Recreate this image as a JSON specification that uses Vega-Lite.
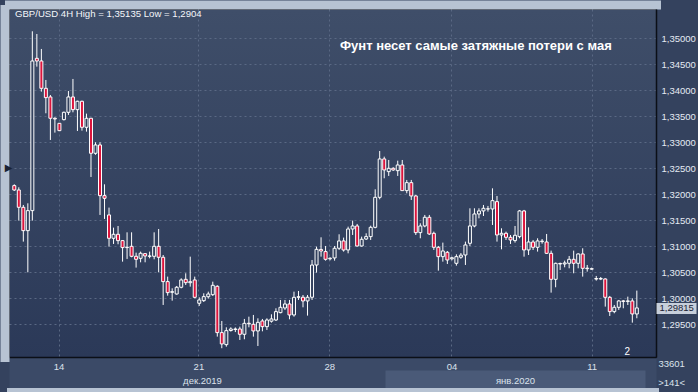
{
  "$schema": "https://vega.github.io/schema/vega-lite/v6.json",
  "width": 647,
  "height": 348,
  "autosize": {"type": "none"},
  "padding": {"left": 9, "top": 9, "right": 42, "bottom": 35},
  "background": "#34425e",
  "view": {
    "fill": {"gradient": "linear", "x1": 0, "y1": 0, "x2": 0, "y2": 1, "stops": [{"offset": 0, "color": "#3f4e69"}, {"offset": 1, "color": "#2b3958"}]},
    "stroke": "#10151f",
    "strokeWidth": 1
  },
  "config": {"font": "Liberation Sans"},
  "data": {"values": [
    {"i":0,"o":1.32167,"h":1.32192,"l":1.32064,"c":1.32083},
    {"i":1,"o":1.32083,"h":1.32135,"l":1.31494,"c":1.3175},
    {"i":2,"o":1.3175,"h":1.31795,"l":1.3109,"c":1.31301},
    {"i":3,"o":1.31301,"h":1.31827,"l":1.305,"c":1.31686},
    {"i":4,"o":1.31686,"h":1.35135,"l":1.31494,"c":1.34564},
    {"i":5,"o":1.34615,"h":1.35083,"l":1.34455,"c":1.34564},
    {"i":6,"o":1.34564,"h":1.34795,"l":1.33974,"c":1.34038},
    {"i":7,"o":1.34038,"h":1.34199,"l":1.33558,"c":1.33859},
    {"i":8,"o":1.33872,"h":1.3391,"l":1.33045,"c":1.33462},
    {"i":9,"o":1.33462,"h":1.33481,"l":1.33186,"c":1.33449},
    {"i":10,"o":1.33365,"h":1.3337,"l":1.3322,"c":1.33224},
    {"i":11,"o":1.33436,"h":1.3359,"l":1.3342,"c":1.33577},
    {"i":12,"o":1.33577,"h":1.33987,"l":1.33526,"c":1.33872},
    {"i":13,"o":1.33872,"h":1.34218,"l":1.33577,"c":1.33628},
    {"i":14,"o":1.33628,"h":1.338,"l":1.33218,"c":1.33789},
    {"i":15,"o":1.33789,"h":1.338,"l":1.33224,"c":1.33289},
    {"i":16,"o":1.33289,"h":1.33551,"l":1.33205,"c":1.33462},
    {"i":17,"o":1.33462,"h":1.3347,"l":1.32333,"c":1.32789},
    {"i":18,"o":1.32789,"h":1.33,"l":1.3276,"c":1.32949},
    {"i":19,"o":1.32949,"h":1.33,"l":1.31603,"c":1.31974},
    {"i":20,"o":1.31974,"h":1.32192,"l":1.31526,"c":1.31923},
    {"i":21,"o":1.31603,"h":1.31744,"l":1.30994,"c":1.31154},
    {"i":22,"o":1.31154,"h":1.31359,"l":1.31045,"c":1.31231},
    {"i":23,"o":1.31231,"h":1.31391,"l":1.31039,"c":1.31109},
    {"i":24,"o":1.31109,"h":1.3112,"l":1.30705,"c":1.30975},
    {"i":25,"o":1.30975,"h":1.31269,"l":1.30757,"c":1.30982},
    {"i":26,"o":1.31,"h":1.31269,"l":1.30789,"c":1.30808},
    {"i":27,"o":1.30808,"h":1.30878,"l":1.3059,"c":1.3075},
    {"i":28,"o":1.30769,"h":1.30898,"l":1.30692,"c":1.30866},
    {"i":29,"o":1.30859,"h":1.3087,"l":1.30692,"c":1.30814},
    {"i":30,"o":1.30808,"h":1.30898,"l":1.30769,"c":1.30814},
    {"i":31,"o":1.30808,"h":1.31269,"l":1.3075,"c":1.31},
    {"i":32,"o":1.31,"h":1.31333,"l":1.305,"c":1.30789},
    {"i":33,"o":1.30789,"h":1.30833,"l":1.29872,"c":1.30321},
    {"i":34,"o":1.30321,"h":1.30417,"l":1.30051,"c":1.30109},
    {"i":35,"o":1.30115,"h":1.30192,"l":1.29955,"c":1.30128},
    {"i":36,"o":1.30083,"h":1.30237,"l":1.3007,"c":1.30212},
    {"i":37,"o":1.30212,"h":1.30385,"l":1.30192,"c":1.30353},
    {"i":38,"o":1.30365,"h":1.30481,"l":1.30256,"c":1.30301},
    {"i":39,"o":1.303,"h":1.30801,"l":1.30224,"c":1.3032},
    {"i":40,"o":1.30353,"h":1.30417,"l":1.3,"c":1.30019},
    {"i":41,"o":1.29904,"h":1.30019,"l":1.29853,"c":1.29968},
    {"i":42,"o":1.29955,"h":1.30096,"l":1.2993,"c":1.30032},
    {"i":43,"o":1.3003,"h":1.30128,"l":1.29994,"c":1.30083},
    {"i":44,"o":1.3007,"h":1.3032,"l":1.30045,"c":1.3025},
    {"i":45,"o":1.30231,"h":1.3025,"l":1.29263,"c":1.2934},
    {"i":46,"o":1.2934,"h":1.29564,"l":1.2904,"c":1.29122},
    {"i":47,"o":1.29109,"h":1.29442,"l":1.2907,"c":1.29378},
    {"i":48,"o":1.2938,"h":1.29442,"l":1.2936,"c":1.2941},
    {"i":49,"o":1.2941,"h":1.2944,"l":1.2935,"c":1.294},
    {"i":50,"o":1.2941,"h":1.29455,"l":1.29199,"c":1.29308},
    {"i":51,"o":1.29308,"h":1.29603,"l":1.29212,"c":1.29519},
    {"i":52,"o":1.2952,"h":1.29647,"l":1.29442,"c":1.2951},
    {"i":53,"o":1.295,"h":1.2968,"l":1.29263,"c":1.29372},
    {"i":54,"o":1.29372,"h":1.29615,"l":1.29083,"c":1.29538},
    {"i":55,"o":1.29564,"h":1.29603,"l":1.29365,"c":1.29455},
    {"i":56,"o":1.29455,"h":1.29615,"l":1.29391,"c":1.29583},
    {"i":57,"o":1.2956,"h":1.29692,"l":1.29532,"c":1.29603},
    {"i":58,"o":1.29583,"h":1.29808,"l":1.29564,"c":1.29744},
    {"i":59,"o":1.29724,"h":1.29968,"l":1.29712,"c":1.29827},
    {"i":60,"o":1.29814,"h":1.29968,"l":1.29776,"c":1.29891},
    {"i":61,"o":1.29891,"h":1.29968,"l":1.29596,"c":1.2968},
    {"i":62,"o":1.2968,"h":1.30128,"l":1.29647,"c":1.30019},
    {"i":63,"o":1.3002,"h":1.30141,"l":1.29968,"c":1.3003},
    {"i":64,"o":1.3002,"h":1.30064,"l":1.29827,"c":1.29949},
    {"i":65,"o":1.29949,"h":1.30064,"l":1.29667,"c":1.3002},
    {"i":66,"o":1.3002,"h":1.30737,"l":1.29968,"c":1.3064},
    {"i":67,"o":1.3064,"h":1.30994,"l":1.30494,"c":1.30942},
    {"i":68,"o":1.3094,"h":1.31173,"l":1.30801,"c":1.3091},
    {"i":69,"o":1.30898,"h":1.31006,"l":1.30724,"c":1.3075},
    {"i":70,"o":1.3076,"h":1.3079,"l":1.3073,"c":1.3077},
    {"i":71,"o":1.30776,"h":1.31006,"l":1.30724,"c":1.30962},
    {"i":72,"o":1.30962,"h":1.31231,"l":1.3093,"c":1.31103},
    {"i":73,"o":1.31103,"h":1.31167,"l":1.30898,"c":1.30929},
    {"i":74,"o":1.3093,"h":1.31378,"l":1.30865,"c":1.31333},
    {"i":75,"o":1.31333,"h":1.31494,"l":1.31218,"c":1.31391},
    {"i":76,"o":1.31391,"h":1.3143,"l":1.30994,"c":1.31006},
    {"i":77,"o":1.31006,"h":1.31186,"l":1.30994,"c":1.31135},
    {"i":78,"o":1.3114,"h":1.3125,"l":1.31122,"c":1.31186},
    {"i":79,"o":1.31186,"h":1.31397,"l":1.31122,"c":1.31365},
    {"i":80,"o":1.31365,"h":1.32096,"l":1.31346,"c":1.31942},
    {"i":81,"o":1.31942,"h":1.32833,"l":1.31904,"c":1.3268},
    {"i":82,"o":1.3268,"h":1.32724,"l":1.32308,"c":1.32468},
    {"i":83,"o":1.32436,"h":1.3266,"l":1.32353,"c":1.325},
    {"i":84,"o":1.325,"h":1.3252,"l":1.3245,"c":1.32468},
    {"i":85,"o":1.32455,"h":1.32647,"l":1.32353,"c":1.32564},
    {"i":86,"o":1.32564,"h":1.3266,"l":1.322,"c":1.32071},
    {"i":87,"o":1.32071,"h":1.32276,"l":1.32019,"c":1.32224},
    {"i":88,"o":1.32224,"h":1.32276,"l":1.31891,"c":1.31968},
    {"i":89,"o":1.31968,"h":1.31987,"l":1.31218,"c":1.31263},
    {"i":90,"o":1.31263,"h":1.31442,"l":1.31154,"c":1.31391},
    {"i":91,"o":1.31391,"h":1.31603,"l":1.31365,"c":1.31558},
    {"i":92,"o":1.31558,"h":1.31603,"l":1.31218,"c":1.31237},
    {"i":93,"o":1.3125,"h":1.31282,"l":1.3093,"c":1.30981},
    {"i":94,"o":1.30981,"h":1.31006,"l":1.30532,"c":1.30801},
    {"i":95,"o":1.30801,"h":1.31071,"l":1.30705,"c":1.3091},
    {"i":96,"o":1.30885,"h":1.3091,"l":1.3066,"c":1.30737},
    {"i":97,"o":1.3076,"h":1.308,"l":1.3073,"c":1.3078},
    {"i":98,"o":1.30673,"h":1.30846,"l":1.30628,"c":1.30801},
    {"i":99,"o":1.3079,"h":1.3087,"l":1.3076,"c":1.3083},
    {"i":100,"o":1.30833,"h":1.3109,"l":1.30641,"c":1.31026},
    {"i":101,"o":1.31058,"h":1.31731,"l":1.31006,"c":1.31391},
    {"i":102,"o":1.31391,"h":1.31731,"l":1.31365,"c":1.31622},
    {"i":103,"o":1.31622,"h":1.31731,"l":1.31538,"c":1.3168},
    {"i":104,"o":1.3168,"h":1.31795,"l":1.31583,"c":1.31731},
    {"i":105,"o":1.3172,"h":1.31776,"l":1.31667,"c":1.31718},
    {"i":106,"o":1.31718,"h":1.32115,"l":1.3141,"c":1.31878},
    {"i":107,"o":1.31859,"h":1.31968,"l":1.3109,"c":1.31218},
    {"i":108,"o":1.31218,"h":1.31346,"l":1.30942,"c":1.3125},
    {"i":109,"o":1.3125,"h":1.31282,"l":1.31122,"c":1.31173},
    {"i":110,"o":1.31173,"h":1.31218,"l":1.31045,"c":1.31122},
    {"i":111,"o":1.3111,"h":1.31391,"l":1.31071,"c":1.31212},
    {"i":112,"o":1.31186,"h":1.31699,"l":1.31154,"c":1.3168},
    {"i":113,"o":1.3168,"h":1.317,"l":1.30801,"c":1.3093},
    {"i":114,"o":1.3093,"h":1.31365,"l":1.30833,"c":1.31083},
    {"i":115,"o":1.31083,"h":1.31122,"l":1.3093,"c":1.30981},
    {"i":116,"o":1.30981,"h":1.31154,"l":1.30898,"c":1.31103},
    {"i":117,"o":1.3109,"h":1.3114,"l":1.3105,"c":1.311},
    {"i":118,"o":1.31083,"h":1.31237,"l":1.30853,"c":1.30865},
    {"i":119,"o":1.30865,"h":1.30917,"l":1.30109,"c":1.30365},
    {"i":120,"o":1.30365,"h":1.30686,"l":1.30212,"c":1.30673},
    {"i":121,"o":1.3067,"h":1.30686,"l":1.30545,"c":1.3066},
    {"i":122,"o":1.3066,"h":1.30724,"l":1.30596,"c":1.3068},
    {"i":123,"o":1.30673,"h":1.30814,"l":1.30577,"c":1.3075},
    {"i":124,"o":1.3075,"h":1.30917,"l":1.30481,"c":1.30673},
    {"i":125,"o":1.30673,"h":1.30865,"l":1.30577,"c":1.30853},
    {"i":126,"o":1.30853,"h":1.30962,"l":1.30417,"c":1.30577},
    {"i":127,"o":1.3058,"h":1.30641,"l":1.30513,"c":1.3057},
    {"i":128,"o":1.3056,"h":1.3059,"l":1.3055,"c":1.3057},
    {"i":129,"o":1.3037,"h":1.3043,"l":1.3034,"c":1.3038},
    {"i":130,"o":1.3037,"h":1.3041,"l":1.3035,"c":1.3038},
    {"i":131,"o":1.30372,"h":1.30385,"l":1.2984,"c":1.30019},
    {"i":132,"o":1.30019,"h":1.30045,"l":1.2966,"c":1.29744},
    {"i":133,"o":1.29744,"h":1.29872,"l":1.29712,"c":1.29827},
    {"i":134,"o":1.29827,"h":1.29968,"l":1.29776,"c":1.29949},
    {"i":135,"o":1.2995,"h":1.29968,"l":1.29808,"c":1.2994},
    {"i":136,"o":1.2994,"h":1.30032,"l":1.29872,"c":1.2995},
    {"i":137,"o":1.29949,"h":1.3,"l":1.29532,"c":1.29699},
    {"i":138,"o":1.29699,"h":1.30148,"l":1.29616,"c":1.29815}
  ]},
  "resolve": {"axis": {"x": "independent", "y": "independent"}},
  "layer": [
    {
      "mark": {"type": "rule", "color": "#ffffff", "strokeWidth": 1, "clip": true},
      "encoding": {
        "x": {"field": "i", "type": "quantitative",
          "scale": {"domain": [-0.0655, 141.14], "nice": false, "zero": false},
          "axis": {"orient": "bottom", "offset": 15.5, "domain": true, "domainWidth": 31, "domainColor": "#3b4a67", "domainCap": "butt",
            "labels": false, "ticks": false, "grid": false, "title": null}},
        "y": {"field": "l", "type": "quantitative",
          "scale": {"domain": [1.288712, 1.355635], "nice": false, "zero": false},
          "axis": {"orient": "right", "values": [1.295, 1.3, 1.305, 1.31, 1.315, 1.32, 1.325, 1.33, 1.335, 1.34, 1.345, 1.35],
            "labelExpr": "replace(format(datum.value, '.5f'), '.', ',')",
            "grid": true, "gridColor": "#5a6984", "gridDash": [2, 3], "gridWidth": 1,
            "ticks": false, "domain": true, "domainColor": "#0b0f17", "domainWidth": 1.5,
            "labelColor": "#e4eaf3", "labelFontSize": 9.5, "labelPadding": 5, "labelAlign": "left", "labelBaseline": "middle",
            "labelFlush": false, "labelOverlap": false, "title": null}},
        "y2": {"field": "h"}
      }
    },
    {
      "mark": {"type": "bar", "size": 3, "stroke": "#ffffff", "strokeWidth": 1, "clip": true},
      "encoding": {
        "x": {"field": "i", "type": "quantitative",
          "scale": {"domain": [-0.0655, 141.14], "nice": false, "zero": false},
          "axis": {"orient": "bottom", "values": [9.82, 40.81, 69.84, 96.9, 127.98],
            "labelExpr": "datum.value < 20 ? '14' : datum.value < 50 ? '21' : datum.value < 80 ? '28' : datum.value < 110 ? '04' : '11'",
            "grid": true, "gridColor": "#5a6984", "gridDash": [2, 3], "gridWidth": 1,
            "ticks": false, "domain": true, "domainColor": "#0b0f17", "domainWidth": 1.5,
            "labelColor": "#dbe2ec", "labelFontSize": 9.5, "labelPadding": 4, "labelFlush": false, "labelOverlap": false, "title": null}},
        "y": {"field": "o", "type": "quantitative",
          "scale": {"domain": [1.288712, 1.355635], "nice": false, "zero": false},
          "axis": {"orient": "right", "values": [1.29815], "labelExpr": "'1,29815'",
            "grid": false, "domain": false, "ticks": true, "tickSize": 40, "tickWidth": 11, "tickColor": "#c7cfdb",
            "labelColor": "#1b2335", "labelFontSize": 9.5, "labelPadding": -37, "labelAlign": "left", "labelBaseline": "middle",
            "labelFlush": false, "labelOverlap": false, "title": null}},
        "y2": {"field": "c"},
        "fill": {"condition": {"test": "datum.c < datum.o", "value": "#dc143c"}, "value": "#34425e"}
      }
    },
    {
      "data": {"values": [{"t": "GBP/USD 4H  High = 1,35135 Low = 1,2904"}]},
      "mark": {"type": "text", "align": "left", "baseline": "middle", "fontSize": 9.6, "color": "#f4f6fa"},
      "encoding": {
        "text": {"field": "t"},
        "x": {"datum": 0.15, "type": "quantitative",
          "scale": {"domain": [-0.0655, 141.14], "nice": false, "zero": false},
          "axis": {"orient": "bottom", "offset": 13, "values": [41.6, 111.0],
            "labelExpr": "datum.value < 80 ? 'дек.2019' : 'янв.2020'",
            "grid": false, "domain": false, "ticks": true, "tickSize": 18, "tickWidth": 260,
            "tickColor": {"condition": {"test": "datum.value > 80", "value": "#4a5a78"}, "value": "transparent"},
            "labelColor": "#dbe2ec", "labelFontSize": 9.5, "labelPadding": -13, "labelFlush": false, "labelOverlap": false, "title": null}},
        "y": {"datum": 1.35458, "type": "quantitative",
          "scale": {"domain": [1.288712, 1.355635], "nice": false, "zero": false},
          "axis": {"orient": "left", "offset": 4.5, "domain": true, "domainWidth": 9, "domainColor": "#b7c3d3", "domainCap": "square",
            "labels": false, "ticks": false, "grid": false, "title": null}}
      }
    },
    {
      "data": {"values": [{"t": "Фунт несет самые затяжные потери с мая"}]},
      "mark": {"type": "text", "align": "left", "baseline": "middle", "fontSize": 13, "fontWeight": "bold", "color": "#ffffff"},
      "encoding": {
        "text": {"field": "t"},
        "x": {"datum": 72.2, "type": "quantitative",
          "scale": {"domain": [-0.0655, 141.14], "nice": false, "zero": false},
          "axis": {"orient": "top", "offset": 4.5, "domain": true, "domainWidth": 9, "domainColor": "#b7c3d3", "domainCap": "square",
            "labels": false, "ticks": false, "grid": false, "title": null}},
        "y": {"datum": 1.34858, "type": "quantitative",
          "scale": {"domain": [1.288712, 1.355635], "nice": false, "zero": false}, "axis": null}
      }
    },
    {
      "data": {"values": [{"t": "2"}]},
      "mark": {"type": "text", "align": "center", "baseline": "middle", "fontSize": 10, "color": "#ffffff"},
      "encoding": {
        "text": {"field": "t"},
        "x": {"datum": 135.9, "type": "quantitative",
          "scale": {"domain": [-0.0655, 141.14], "nice": false, "zero": false},
          "axis": {"orient": "bottom", "offset": 33, "domain": true, "domainWidth": 5, "domainColor": "#b7c3d3", "domainCap": "square",
            "labels": false, "ticks": false, "grid": false, "title": null}},
        "y": {"datum": 1.289673, "type": "quantitative",
          "scale": {"domain": [1.288712, 1.355635], "nice": false, "zero": false}, "axis": null}
      }
    },
    {
      "data": {"values": [{"t": "33601"}]},
      "mark": {"type": "text", "align": "center", "baseline": "middle", "fontSize": 9.5, "color": "#dbe2ec"},
      "encoding": {
        "text": {"field": "t"},
        "x": {"datum": 145.72, "type": "quantitative",
          "scale": {"domain": [-0.0655, 141.14], "nice": false, "zero": false}, "axis": null},
        "y": {"datum": 1.287462, "type": "quantitative",
          "scale": {"domain": [1.288712, 1.355635], "nice": false, "zero": false}, "axis": null}
      }
    },
    {
      "data": {"values": [{"t": ">141<"}]},
      "mark": {"type": "text", "align": "center", "baseline": "middle", "fontSize": 9.5, "color": "#dbe2ec"},
      "encoding": {
        "text": {"field": "t"},
        "x": {"datum": 145.72, "type": "quantitative",
          "scale": {"domain": [-0.0655, 141.14], "nice": false, "zero": false}, "axis": null},
        "y": {"datum": 1.283712, "type": "quantitative",
          "scale": {"domain": [1.288712, 1.355635], "nice": false, "zero": false}, "axis": null}
      }
    },
    {
      "data": {"values": [{"t": "▶"}]},
      "mark": {"type": "text", "align": "center", "baseline": "middle", "fontSize": 10, "font": "DejaVu Sans", "color": "#1a2233"},
      "encoding": {
        "text": {"field": "t"},
        "x": {"datum": -1.266, "type": "quantitative",
          "scale": {"domain": [-0.0655, 141.14], "nice": false, "zero": false}, "axis": null},
        "y": {"datum": 1.325058, "type": "quantitative",
          "scale": {"domain": [1.288712, 1.355635], "nice": false, "zero": false}, "axis": null}
      }
    }
  ]
}
